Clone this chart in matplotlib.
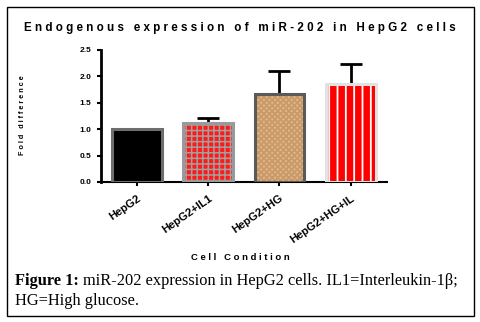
import numpy as np
import matplotlib
matplotlib.use("Agg")
import matplotlib.pyplot as plt
from matplotlib.patches import Rectangle

conditions = ["HepG2", "HepG2+IL1", "HepG2+HG", "HepG2+HG+IL"]
fold_diff = [1.0, 1.12, 1.67, 1.85]
err_up = [0.0, 0.10, 0.43, 0.38]
yticks = [0.0, 0.5, 1.0, 1.5, 2.0, 2.5]

faces = ["black", "#ff1a1a", "#e8b887", "#ff0000"]
hatch_cols = ["black", "#a0a0a0", "#c99a6a", "white"]
hatches = [None, "+++", "xxxxxx", "||"]
hatch_lw = [1.0, 1.1, 1.4, 1.3]
edges = ["#6e6e6e", "#9a9a9a", "#5a5a5a", "#e2e2e2"]

plt.rcParams["font.family"] = ["Liberation Sans", "DejaVu Sans"]

fig = plt.figure(figsize=(4.8, 3.22), dpi=100)
ax = fig.add_axes([101 / 480, 1 - 182 / 322, 286 / 480, 132 / 322])

x = np.arange(len(conditions))
for i in range(len(conditions)):
    with plt.rc_context({"hatch.linewidth": hatch_lw[i]}):
        ax.bar(x[i], fold_diff[i], width=0.7, color=faces[i], edgecolor=hatch_cols[i],
               hatch=hatches[i], linewidth=0, zorder=2)
    ax.bar(x[i], fold_diff[i], width=0.7, fill=False, edgecolor=edges[i],
           linewidth=2.2, zorder=3)
ax.errorbar(x[1:], fold_diff[1:], yerr=[np.zeros(3), err_up[1:]], fmt="none",
            ecolor="black", elinewidth=2, capsize=8, capthick=2, zorder=1)

ax.set_xlim(-0.505, 3.51)
ax.set_ylim(0, 2.5)
ax.set_yticks(yticks)
ax.set_yticklabels(["%.1f" % v for v in yticks], fontsize=6, fontweight="bold")
ax.set_xticks(x)
ax.set_xticklabels(conditions, rotation=35, ha="right", rotation_mode="anchor",
                   fontsize=8, fontweight="bold")
ax.spines["top"].set_visible(False)
ax.spines["right"].set_visible(False)
ax.spines["left"].set_linewidth(2)
ax.spines["bottom"].set_linewidth(1.5)
ax.tick_params(axis="y", width=1.5, length=3, pad=4)
ax.tick_params(axis="x", width=1.5, length=3, pad=5)

fig.text(0.5, 1 - 28 / 322, "E n d o g e n o u s   e x p r e s s i o n   o f   m i R - 2 0 2   i n   H e p G 2   c e l l s",
         ha="center", va="center", fontsize=8.4, fontweight="bold")
fig.text(23 / 480, 1 - 115 / 322, "F o l d   d i f f e r e n c e", rotation=90,
         ha="center", va="center", fontsize=5.2, fontweight="bold")
fig.text(240 / 480, 1 - 258 / 322, "C e l l   C o n d i t i o n", ha="center",
         va="center", fontsize=6.8, fontweight="bold")

t1 = fig.text(15 / 480, 1 - 285 / 322, "Figure 1:", family="Liberation Serif",
              fontweight="bold", fontsize=11.8, va="baseline")
plt.annotate("miR-202 expression in HepG2 cells. IL1=Interleukin-1\u03b2;",
             xy=(1, 0), xycoords=t1, xytext=(3, 0), textcoords="offset points",
             family="Liberation Serif", fontsize=11.8, va="bottom")
fig.text(15 / 480, 1 - 305 / 322, "HG=High glucose.", family="Liberation Serif",
         fontsize=11.8, va="baseline")

fig.patches.append(Rectangle((7 / 480, 1 - 316 / 322), 467 / 480, 309 / 322,
                             transform=fig.transFigure, fill=False,
                             edgecolor="black", linewidth=1))

fig.savefig("out.png", dpi=100)
